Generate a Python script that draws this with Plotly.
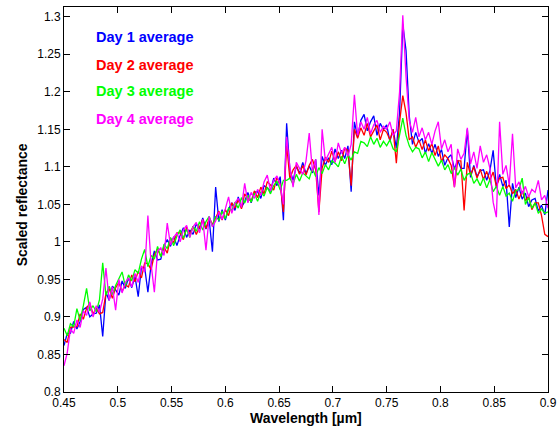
import numpy as np
import plotly.graph_objects as go

# Wavelength grid (micrometres), 0.450 .. 0.900 in 0.003 steps
wavelength = np.round(np.arange(151) * 0.003 + 0.45, 3)

day1 = [
    .862, .878, .878, .894, .884, .894, .910, .913, .900, .904,
    .905, .916, .874, .933, .922, .941, .936, .929, .948, .938,
    .952, .939, .954, .927, .966, .966, .933, .970, .988, .976,
    .977, .995, 1.003, .994, 1.007, .995, 1.009, 1.019, 1.006, 1.016,
    1.010, 1.024, 1.017, 1.032, 1.017, 1.029, .987, 1.073, 1.027, 1.043,
    1.029, 1.044, 1.052, 1.042, 1.060, 1.046, 1.054, 1.066, 1.052, 1.066,
    1.067, 1.058, 1.075, 1.072, 1.068, 1.085, 1.075, 1.087, 1.029, 1.158,
    1.096, 1.082, 1.101, 1.091, 1.106, 1.091, 1.101, 1.092, 1.110, 1.062,
    1.114, 1.102, 1.112, 1.103, 1.124, 1.111, 1.122, 1.111, 1.128, 1.067,
    1.160, 1.140, 1.162, 1.170, 1.148, 1.160, 1.168, 1.142, 1.158, 1.150,
    1.156, 1.134, 1.150, 1.125, 1.172, 1.290, 1.255, 1.168, 1.130, 1.146,
    1.133, 1.138, 1.118, 1.131, 1.118, 1.130, 1.114, 1.123, 1.102, 1.112,
    1.116, 1.097, 1.109, 1.098, 1.098, 1.150, 1.086, 1.102, 1.087, 1.095,
    1.096, 1.082, 1.095, 1.122, 1.073, 1.090, 1.074, 1.082, 1.020, 1.078,
    1.059, 1.073, 1.057, 1.065, 1.047, 1.056, 1.058, 1.041, 1.049, 1.036,
    1.069,
]

day2 = [
    .870, .866, .886, .886, .887, .904, .897, .912, .918, .904,
    .912, .904, .906, .931, .938, .925, .939, .946, .934, .943,
    .940, .956, .947, .961, .952, .972, .971, .963, .983, .990,
    .981, .993, .985, 1.005, .999, 1.012, 1.012, 1.003, 1.020, 1.010,
    1.021, 1.010, 1.021, 1.030, 1.018, 1.032, 1.023, 1.032, 1.041, 1.029,
    1.043, 1.035, 1.052, 1.045, 1.056, 1.044, 1.064, 1.058, 1.054, 1.068,
    1.059, 1.073, 1.064, 1.080, 1.076, 1.069, 1.086, 1.077, 1.040, 1.130,
    1.084, 1.096, 1.102, 1.090, 1.102, 1.089, 1.102, 1.110, 1.096, 1.040,
    1.098, 1.113, 1.106, 1.121, 1.107, 1.120, 1.108, 1.125, 1.122, 1.075,
    1.150, 1.138, 1.152, 1.142, 1.158, 1.140, 1.148, 1.156, 1.136, 1.150,
    1.146, 1.136, 1.150, 1.105, 1.160, 1.195, 1.172, 1.136, 1.140, 1.126,
    1.136, 1.123, 1.136, 1.121, 1.131, 1.115, 1.128, 1.107, 1.116, 1.111,
    1.102, 1.073, 1.108, 1.108, 1.042, 1.106, 1.089, 1.100, 1.085, 1.097,
    1.083, 1.094, 1.082, 1.093, 1.074, 1.085, 1.086, 1.071, 1.076, 1.064,
    1.070, 1.057, 1.068, 1.055, 1.061, 1.043, 1.052, 1.052, 1.035, 1.010,
    1.007,
]

day3 = [
    .885, .875, .891, .887, .911, .895, .915, .938, .908, .915,
    .907, .923, .972, .929, .941, .930, .942, .950, .960, .941,
    .956, .948, .963, .958, .977, .990, .967, .982, .977, .994,
    .980, .997, .991, 1.006, .995, 1.008, 1.016, 1.005, 1.017, 1.006,
    1.021, 1.014, 1.027, 1.016, 1.027, 1.034, 1.021, 1.034, 1.029, 1.041,
    1.031, 1.045, 1.042, 1.053, 1.045, 1.059, 1.052, 1.062, 1.053, 1.065,
    1.054, 1.067, 1.061, 1.073, 1.064, 1.075, 1.081, 1.069, 1.082, 1.082,
    1.085, 1.077, 1.090, 1.081, 1.092, 1.088, 1.084, 1.098, 1.087, 1.099,
    1.091, 1.103, 1.096, 1.108, 1.105, 1.100, 1.114, 1.104, 1.116, 1.109,
    1.120, 1.118, 1.134, 1.132, 1.127, 1.140, 1.130, 1.138, 1.126, 1.134,
    1.128, 1.136, 1.124, 1.120, 1.142, 1.165, 1.142, 1.128, 1.120, 1.126,
    1.124, 1.112, 1.120, 1.107, 1.119, 1.110, 1.101, 1.109, 1.096, 1.103,
    1.091, 1.099, 1.089, 1.097, 1.082, 1.090, 1.092, 1.078, 1.084, 1.075,
    1.085, 1.072, 1.083, 1.067, 1.074, 1.062, 1.074, 1.061, 1.065, 1.054,
    1.068, 1.070, 1.085, 1.050, 1.059, 1.045, 1.052, 1.038, 1.044, 1.038,
    1.040,
]

day4 = [
    .835, .852, .884, .878, .896, .886, .908, .902, .920, .900,
    .915, .906, .924, .965, .922, .940, .909, .950, .932, .946,
    .952, .940, .958, .946, .968, .960, 1.035, .970, .933, .988,
    .992, .982, 1.025, .996, 1.006, 1.012, 1.000, 1.016, 1.022, 1.006,
    1.020, 1.026, 1.012, 1.030, .989, 1.034, 1.020, 1.028, 1.040, 1.030,
    1.044, 1.060, 1.038, 1.052, 1.058, 1.046, 1.078, 1.052, 1.066, 1.058,
    1.070, 1.062, 1.080, 1.089, 1.068, 1.082, 1.088, 1.076, 1.050, 1.140,
    1.100, 1.073, 1.106, 1.098, 1.090, 1.108, 1.145, 1.094, 1.110, 1.036,
    1.150, 1.108, 1.118, 1.126, 1.106, 1.132, 1.118, 1.126, 1.114, 1.130,
    1.196, 1.142, 1.160, 1.150, 1.166, 1.144, 1.156, 1.162, 1.146, 1.154,
    1.150, 1.160, 1.142, 1.148, 1.200, 1.302, 1.220, 1.162, 1.146, 1.166,
    1.140, 1.152, 1.136, 1.146, 1.130, 1.148, 1.160, 1.124, 1.136, 1.120,
    1.130, 1.073, 1.124, 1.110, 1.118, 1.152, 1.104, 1.120, 1.098, 1.128,
    1.106, 1.116, 1.098, 1.053, 1.033, 1.160, 1.090, 1.102, 1.076, 1.144,
    1.072, 1.080, 1.064, 1.074, 1.060, 1.070, 1.066, 1.082, 1.056, 1.062,
    1.045,
]

series_names = ["Day 1 average", "Day 2 average", "Day 3 average", "Day 4 average"]
series_colors = ["#0000FF", "#FF0000", "#00FF00", "#FF00FF"]
series_values = [day1, day2, day3, day4]

x_ticks = [0.45, 0.5, 0.55, 0.6, 0.65, 0.7, 0.75, 0.8, 0.85, 0.9]
x_tick_text = ["0.45", "0.5", "0.55", "0.6", "0.65", "0.7", "0.75", "0.8", "0.85", "0.9"]
y_ticks = [0.8, 0.85, 0.9, 0.95, 1.0, 1.05, 1.1, 1.15, 1.2, 1.25, 1.3]
y_tick_text = ["0.8", "0.85", "0.9", "0.95", "1", "1.05", "1.1", "1.15", "1.2", "1.25", "1.3"]

FONT = "Liberation Sans, Arial, Helvetica, sans-serif"

fig = go.Figure()
for name, color, vals in zip(series_names, series_colors, series_values):
    fig.add_trace(go.Scatter(
        x=wavelength, y=vals, mode="lines", name=name,
        line=dict(color=color, width=1.3), showlegend=False,
    ))

# legend as coloured text (MATLAB style, no line samples)
legend_y = [0.922, 0.849, 0.781, 0.708]
for name, color, yy in zip(series_names, series_colors, legend_y):
    fig.add_annotation(
        text="<b>%s</b>" % name, xref="paper", yref="paper",
        x=0.062, y=yy, xanchor="left", yanchor="middle", showarrow=False,
        font=dict(family=FONT, size=14.5, color=color),
    )

fig.add_annotation(
    text="<b>Wavelength [µm]</b>", xref="paper", yref="paper",
    x=0.5, y=-0.067, xanchor="center", yanchor="middle", showarrow=False,
    font=dict(family=FONT, size=14, color="black"),
)
fig.add_annotation(
    text="<b>Scaled reflectance</b>", xref="paper", yref="paper",
    x=-0.088, y=0.486, xanchor="center", yanchor="middle", showarrow=False,
    textangle=-90, font=dict(family=FONT, size=14, color="black"),
)

axis_common = dict(
    showline=True, linecolor="black", linewidth=1, mirror="ticks",
    ticks="inside", ticklen=6, tickcolor="black", tickwidth=1,
    showgrid=False, zeroline=False,
    tickfont=dict(family=FONT, size=12, color="black"),
)

fig.update_xaxes(range=[0.45, 0.9], tickvals=x_ticks, ticktext=x_tick_text,
                 ticklabeloverflow="allow", **axis_common)
fig.update_yaxes(range=[0.8, 1.313], tickvals=y_ticks, ticktext=y_tick_text,
                 ticklabeloverflow="allow", **axis_common)

fig.update_layout(
    width=560, height=427,
    margin=dict(l=64, r=3, t=7, b=35),
    paper_bgcolor="white", plot_bgcolor="white",
    font=dict(family=FONT, size=12, color="black"),
)

fig.write_html(
    "out.html",
    config={"displayModeBar": False},
    post_script="document.body.style.margin='0';document.body.style.padding='0';",
)
